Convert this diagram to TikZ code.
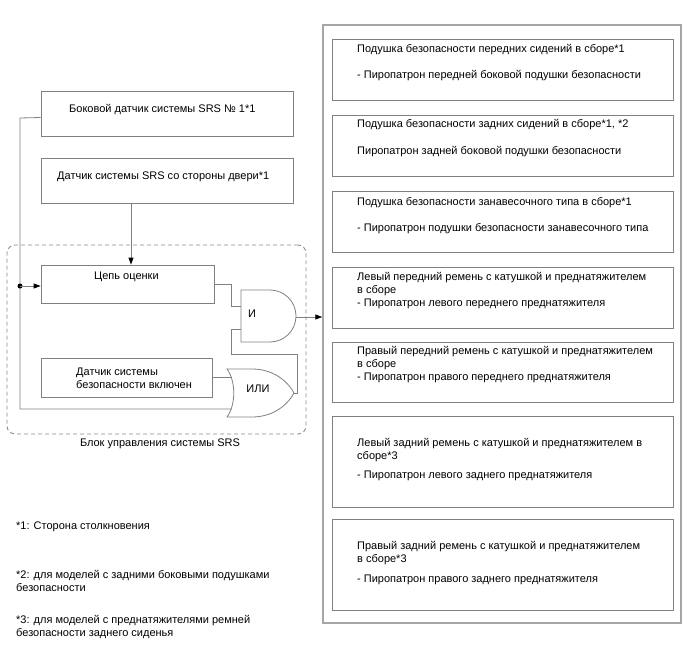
\documentclass[tikz,border=0pt]{standalone}
\usepackage{fontspec}
\setmainfont{Liberation Sans}
\usetikzlibrary{arrows.meta}
\begin{document}
\begin{tikzpicture}[x=1pt,y=-1pt,
  every node/.style={font=\fontsize{11}{13.2}\selectfont},
  box/.style={draw=black!50, line width=0.8pt, inner sep=0pt},
  bigbox/.style={draw=black!35, line width=1.5pt, inner sep=0pt},
  dbox/.style={draw=black!45, line width=0.9pt, dash pattern=on 4pt off 3pt, rounded corners=8pt, inner sep=0pt},
  wire/.style={draw=black!50, line width=0.8pt},
  arr/.style={wire, -{Triangle[length=7pt,width=5pt,color=black]}},
  txt/.style={inner sep=0pt, anchor=base west},
  gate/.style={draw=black!50, line width=0.8pt}
]
\useasboundingbox (0,0) rectangle (688,658);

% ---- left boxes
\node[box, minimum width=252pt, minimum height=45pt] (b1) at (167,113.5) {};
\node[txt] (b1t) at (69,113) {Боковой датчик системы SRS № 1*1};
\node[box, minimum width=252pt, minimum height=45pt] (b2) at (167,180.5) {};
\node[txt] (b2t) at (57,179) {Датчик системы SRS со стороны двери*1};

% ---- control unit
\node[dbox, minimum width=299pt, minimum height=189pt] (ctrl) at (156.5,339.5) {};
\node[inner sep=0pt, anchor=base] (ctrlLbl) at (160,446) {Блок управления системы SRS};

\node[box, minimum width=173pt, minimum height=38pt] (eval) at (127.5,284) {};
\node[txt] (evalt) at (94,279) {Цепь оценки};
\node[box, minimum width=171pt, minimum height=39pt] (sens) at (126.5,377.5) {};
\node[txt] (senst1) at (76,375) {Датчик системы};
\node[txt] (senst2) at (76,388) {безопасности включен};

% AND gate
\draw[gate] (241,290) -- (270,290) arc[start angle=-90, end angle=90, radius=26] -- (241,342) -- cycle;
\node (andLbl) at (252,314) {И};
% OR gate
\draw[gate] (227,369) -- (252,369) .. controls (272,369) and (287,380) .. (294,393)
  .. controls (287,406) and (272,417) .. (252,417) -- (227,417)
  .. controls (236,405) and (236,381) .. (227,369) -- cycle;
\node (orLbl) at (258,389) {ИЛИ};

\coordinate (andIn1) at (241,306);
\coordinate (andIn2) at (241,329);
\coordinate (andOut) at (296,317);
\coordinate (orIn1) at (231.5,377.5);
\coordinate (orIn2) at (231.5,409);
\coordinate (orOut) at (294,393);
\coordinate (lt) at (20,118);
\coordinate (lb) at (20,409);
\coordinate (dot) at (20,286);
\coordinate (xa) at (131,0);

% ---- right column
\node[bigbox, minimum width=358pt, minimum height=598pt] (big) at (502,324) {};
\node[box, minimum width=341pt, minimum height=61pt] (A) at (502.5,69.5) {};
\node[box, minimum width=341pt, minimum height=61pt] (B) at (502.5,145.5) {};
\node[box, minimum width=341pt, minimum height=61pt] (C) at (502.5,221.5) {};
\node[box, minimum width=341pt, minimum height=61pt] (D) at (502.5,297.5) {};
\node[box, minimum width=341pt, minimum height=60pt] (E) at (502.5,372) {};
\node[box, minimum width=341pt, minimum height=91pt] (F) at (502.5,461.5) {};
\node[box, minimum width=341pt, minimum height=91pt] (G) at (502.5,564.5) {};

\node[txt] (A1) at (357,53) {Подушка безопасности передних сидений в сборе*1};
\node[txt] (A2) at (357,79) {- Пиропатрон передней боковой подушки безопасности};
\node[txt] (B1) at (357,128) {Подушка безопасности задних сидений в сборе*1, *2};
\node[txt] (B2) at (357,154) {Пиропатрон задней боковой подушки безопасности};
\node[txt] (C1) at (357,205) {Подушка безопасности занавесочного типа в сборе*1};
\node[txt] (C2) at (357,231) {- Пиропатрон подушки безопасности занавесочного типа};
\node[txt] (D1) at (357,280) {Левый передний ремень с катушкой и преднатяжителем};
\node[txt] (D2) at (357,293) {в сборе};
\node[txt] (D3) at (357,306) {- Пиропатрон левого переднего преднатяжителя};
\node[txt] (E1) at (357,354) {Правый передний ремень с катушкой и преднатяжителем};
\node[txt] (E2) at (357,367) {в сборе};
\node[txt] (E3) at (357,380) {- Пиропатрон правого переднего преднатяжителя};
\node[txt] (F1) at (357,446) {Левый задний ремень с катушкой и преднатяжителем в};
\node[txt] (F2) at (357,459) {сборе*3};
\node[txt] (F3) at (357,478) {- Пиропатрон левого заднего преднатяжителя};
\node[txt] (G1) at (357,549) {Правый задний ремень с катушкой и преднатяжителем};
\node[txt] (G2) at (357,562) {в сборе*3};
\node[txt] (G3) at (357,582) {- Пиропатрон правого заднего преднатяжителя};

% ---- footnotes
\node[txt] (n1) at (16,529) {*1: Сторона столкновения};
\node[txt] (n2a) at (16,578) {*2: для моделей с задними боковыми подушками};
\node[txt] (n2b) at (16,591) {безопасности};
\node[txt] (n3a) at (16,623) {*3: для моделей с преднатяжителями ремней};
\node[txt] (n3b) at (16,636) {безопасности заднего сиденья};

% ---- connectors
\draw[wire] ([yshift=-4pt]b1.west) -- (lt) -- (lb) -- (orIn2);
\fill (dot) circle (2.5pt);
\draw[arr] (dot) -- (eval.west |- dot);
\draw[arr] (b2.south -| xa) -- (eval.north -| xa);
\draw[wire] (eval.east) -- ++(17,0) |- (andIn1);
\draw[wire] (orOut) -- ++(3,0) -- ++(0,-39) -- ++(-66,0) |- (andIn2);
\draw[wire] (sens.east) -- (orIn1);
\draw[arr] (andOut) -- (andOut -| big.west);
\end{tikzpicture}
\end{document}
